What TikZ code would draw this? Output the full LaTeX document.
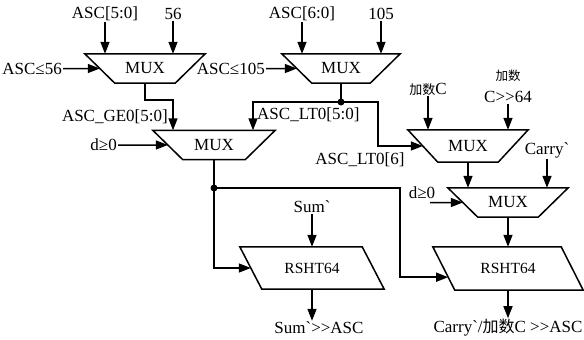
\documentclass[tikz,border=0pt]{standalone}
\usepackage{fontspec}
\setmainfont{Liberation Serif}[Ligatures=TeXOff]
\newfontfamily\cjk{Noto Sans CJK SC}
\usetikzlibrary{arrows.meta,calc}
\newcommand\muxshape[1]{%
  \coordinate (#1bl) at ([xshift=30pt]#1.south west);
  \coordinate (#1br) at ([xshift=-30pt]#1.south east);
  \draw[shp] (#1.north west) -- (#1.north east) -- (#1br) -- (#1bl) -- cycle;
  \coordinate (#1l) at ($(#1.north west)!0.5!(#1bl)$);}
\newcommand\rshshape[2]{%
  \coordinate (#1tl) at ([xshift=-11pt]#1.north west);
  \coordinate (#1tr) at ([xshift=-11pt]#1.north east);
  \coordinate (#1bl) at ([xshift=11pt]#1.south west);
  \coordinate (#1br) at ([xshift=11pt]#1.south east);
  \draw[shp] (#1tl) -- (#1tr) -- (#1br) -- (#1bl) -- cycle;
  \coordinate (#1l) at ($(#1tl)!#2!(#1bl)$);}
\begin{document}
\begin{tikzpicture}[x=1pt,y=-1pt,
  shp/.style={line width=1.5pt, line join=miter},
  wire/.style={line width=1.5pt},
  arr/.style={wire,-{Triangle[length=12pt,width=9pt]}},
  lbl/.style={inner sep=1pt, font=\fontsize{17}{20}\selectfont},
  muxbox/.style={inner sep=0pt, font=\fontsize{17}{20}\selectfont, minimum width=120pt, minimum height=29pt},
  rbox/.style={inner sep=0pt, font=\fontsize{15.5}{18}\selectfont, minimum height=42pt},
  dot/.style={circle, fill, inner sep=0pt, minimum size=7pt}]
\useasboundingbox (0,0) rectangle (584,340);

% MUX blocks
\node[muxbox] (m1) at (145,68.5) {MUX};
\node[muxbox, minimum width=118pt] (m2) at (341,68.5) {MUX};
\node[muxbox, minimum width=122pt] (m3) at (214,145) {MUX};
\node[muxbox, minimum height=32pt] (m4) at (468,146) {MUX};
\node[muxbox] (m5) at (508,202.5) {MUX};
\muxshape{m1}\muxshape{m2}\muxshape{m3}\muxshape{m4}\muxshape{m5}

% RSHT blocks
\node[rbox, minimum width=122pt] (r1) at (312,268) {RSHT64};
\node[rbox, minimum width=128pt, minimum height=43pt] (r2) at (508,268.5) {RSHT64};
\rshshape{r1}{0.5}\rshshape{r2}{0.7}

% top inputs
\node[lbl] (i1) at (105,14) {ASC[5:0]};
\node[lbl] (i2) at (173,14) {56};
\node[lbl] (i3) at (302,14) {ASC[6:0]};
\node[lbl] (i4) at (381,14) {105};
\draw[arr] (i1) -- (i1 |- m1.north);
\draw[arr] (i2) -- (i2 |- m1.north);
\draw[arr] (i3) -- (i3 |- m2.north);
\draw[arr] (i4) -- (i4 |- m2.north);

% select inputs
\node[lbl, anchor=east] (s1) at (63,68.5) {ASC≤56};
\node[lbl, anchor=east] (s2) at (266,68.5) {ASC≤105};
\draw[arr] (s1.east) -- (m1l);
\draw[arr] (s2.east) -- (m2l);
\node[lbl, anchor=east] (d1) at (118,145) {d≥0};
\draw[arr] (d1.east) -- (m3l);

% signal labels
\node[lbl, anchor=east] (g1) at (169,117) {ASC\_GE0[5:0]};
\node[lbl, anchor=west] (l1) at (256,115) {ASC\_LT0[5:0]};
\node[lbl] (l2) at (360,160) {ASC\_LT0[6]};

% MUX1 -> MUX3
\draw[arr] (m1.south) -- ++(0,17) -| ([xshift=-41pt]m3.north);
% MUX2 outputs
\node[dot] (j1) at (341,102) {};
\draw[wire] (m2.south) -- (j1.center);
\draw[arr] (j1.center) -| ([xshift=39pt]m3.north);
\coordinate (k1) at (378,102);
\draw[arr] (j1.center) -- (k1) |- (m4l);

% MUX4 inputs
\node[lbl] (c1) at (428,89) {{\cjk\fontsize{13}{15}\selectfont 加数}C};
\node[lbl, align=center, font=\fontsize{17}{22}\selectfont] (c2) at (508,86) {{\cjk\fontsize{12.5}{15}\selectfont 加数}\\C>>64};
\draw[arr] (c1) -- (c1 |- m4.north);
\draw[arr] (c2) -- (c2 |- m4.north);

% MUX5 inputs
\draw[arr] (m4.south) -- (m4.south |- m5.north);
\node[lbl] (cy) at (547,150) {Carry`};
\draw[arr] (cy) -- (cy |- m5.north);
\node[lbl] (d2) at (422,193) {d≥0};
\coordinate (d2s) at (430,202.5);
\draw[arr] (d2s) -- (m5l);

% MUX3 outputs
\node[dot] (j2) at (214,188) {};
\draw[wire] (m3.south) -- (j2.center);
\draw[arr] (j2.center) |- (r1l);
\coordinate (k2) at (400,188);
\draw[arr] (j2.center) -- (k2) |- (r2l);

% RSHT inputs/outputs
\node[lbl] (su) at (312,207) {Sum`};
\draw[arr] (su) -- (su |- r1.north);
\draw[arr] (m5.south) -- (m5.south |- r2.north);
\node[lbl] (o1) at (319,328) {Sum`>>ASC};
\node[lbl] (o2) at (508,328) {Carry`/{\cjk\fontsize{16}{18}\selectfont 加数}C >>ASC};
\draw[arr] (r1.south) -- (r1.south |- o1.north);
\draw[arr] (r2.south) -- (r2.south |- o2.north);
\end{tikzpicture}
\end{document}
